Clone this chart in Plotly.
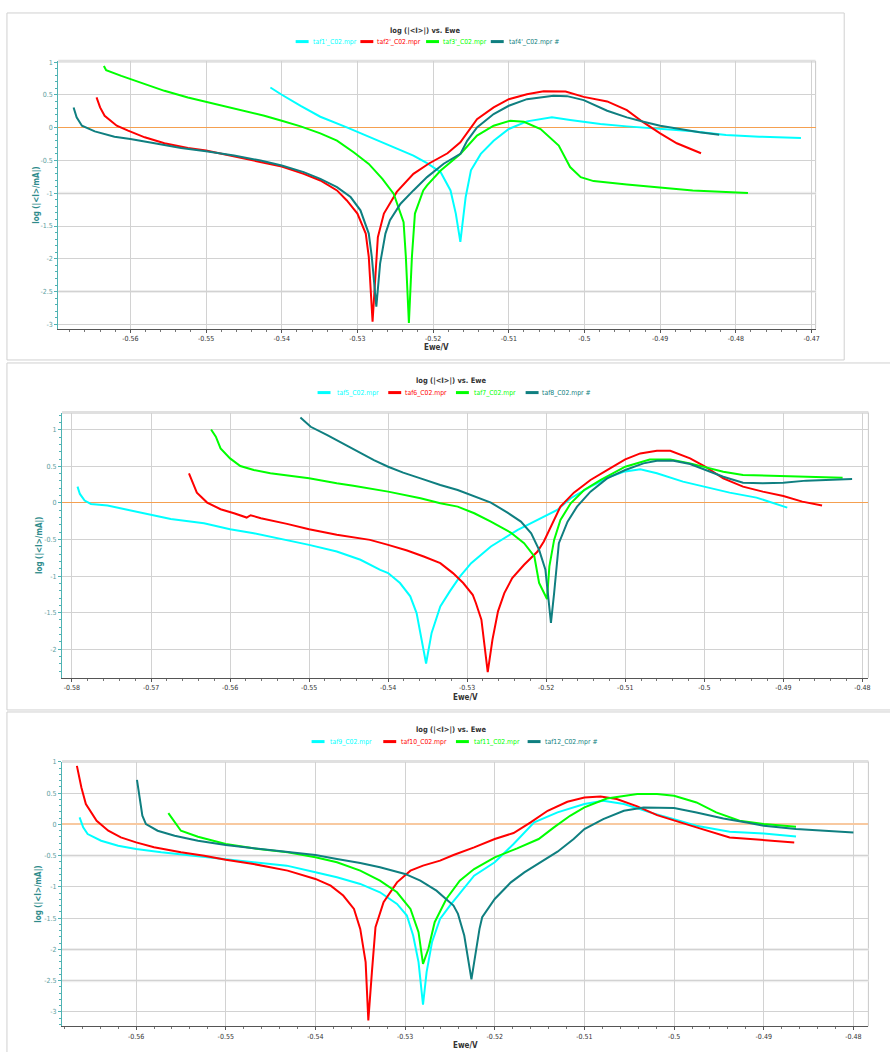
import plotly.graph_objects as go

# ---------------- data ----------------
SERIES_NAMES_1 = ["taf1'_C02.mpr", "taf2'_C02.mpr", "taf3'_C02.mpr", "taf4'_C02.mpr #"]
SERIES_NAMES_2 = ["taf5_C02.mpr", "taf6_C02.mpr", "taf7_C02.mpr", "taf8_C02.mpr #"]
SERIES_NAMES_3 = ["taf9_C02.mpr", "taf10_C02.mpr", "taf11_C02.mpr", "taf12_C02.mpr #"]
COLORS = ["#00FFFF", "#FF0000", "#00FF00", "#0F7F80"]

# Panel 1
taf1_x = [-0.5415, -0.5401, -0.5375, -0.5349, -0.5314, -0.5283, -0.5252, -0.5226, -0.5208, -0.519, -0.5177, -0.517,
          -0.5164, -0.5157, -0.515, -0.5137, -0.512, -0.51, -0.5076, -0.5043, -0.5019, -0.4979, -0.4944, -0.49,
          -0.4857, -0.4813, -0.4769, -0.4714]
taf1_y = [0.613, 0.51, 0.334, 0.167, 0.005, -0.147, -0.289, -0.425, -0.54, -0.68, -0.957, -1.31, -1.74, -1.06, -0.65,
          -0.40, -0.20, -0.02, 0.096, 0.157, 0.116, 0.056, 0.02, -0.02, -0.056, -0.11, -0.137, -0.157]
taf2_x = [-0.56447, -0.564, -0.5634, -0.5618, -0.5603, -0.5581, -0.5555, -0.5524, -0.55, -0.5463, -0.5428, -0.54,
          -0.5371, -0.5349, -0.5327, -0.5314, -0.53, -0.5289, -0.5285, -0.528, -0.5276, -0.5273, -0.5265, -0.5248,
          -0.5226, -0.5206, -0.5181, -0.5164, -0.5142, -0.512, -0.51, -0.5076, -0.5054, -0.5025, -0.5001, -0.497,
          -0.4944, -0.4922, -0.49, -0.4878, -0.4846]
taf2_y = [0.461, 0.309, 0.182, 0.03, -0.046, -0.147, -0.238, -0.309, -0.349, -0.44, -0.527, -0.592, -0.704, -0.805,
          -0.957, -1.11, -1.31, -1.615, -1.97, -2.96, -2.22, -1.67, -1.31, -0.98, -0.704, -0.55, -0.39, -0.223, 0.13,
          0.31, 0.435, 0.51, 0.557, 0.552, 0.47, 0.40, 0.268, 0.08, -0.086, -0.238, -0.39]
taf3_x = [-0.5635, -0.5632, -0.5612, -0.5586, -0.5555, -0.5524, -0.55, -0.5458, -0.5423, -0.54, -0.5375, -0.5349,
          -0.5327, -0.5305, -0.5285, -0.5267, -0.5252, -0.5239, -0.5236, -0.5232, -0.5228, -0.5224, -0.5213, -0.5208,
          -0.519, -0.5164, -0.5142, -0.512, -0.5098, -0.508, -0.5058, -0.5034, -0.5019, -0.5005, -0.4988, -0.4944,
          -0.49, -0.4857, -0.4813, -0.4784]
taf3_y = [0.942, 0.876, 0.79, 0.689, 0.562, 0.461, 0.395, 0.284, 0.182, 0.106, 0.02, -0.086, -0.197, -0.375, -0.552,
          -0.78, -1.01, -1.44, -1.97, -2.98, -1.97, -1.31, -0.957, -0.88, -0.653, -0.40, -0.12, 0.03, 0.106, 0.091,
          -0.02, -0.273, -0.60, -0.754, -0.815, -0.866, -0.916, -0.957, -0.98, -0.997]
taf4_x = [-0.5675, -0.5671, -0.5664, -0.5647, -0.5621, -0.56, -0.5568, -0.5533, -0.55, -0.5463, -0.5428, -0.54,
          -0.5371, -0.5349, -0.5327, -0.5309, -0.5296, -0.5285, -0.5281, -0.5275, -0.527, -0.5263, -0.5257, -0.5243,
          -0.5226, -0.5208, -0.5186, -0.5164, -0.5155, -0.5142, -0.512, -0.51, -0.5076, -0.5041, -0.5023, -0.5001,
          -0.497, -0.4944, -0.4922, -0.49, -0.4874, -0.4848, -0.4822]
taf4_y = [0.309, 0.157, 0.03, -0.056, -0.137, -0.172, -0.238, -0.309, -0.36, -0.425, -0.501, -0.577, -0.678, -0.78,
          -0.906, -1.058, -1.26, -1.615, -1.97, -2.73, -2.07, -1.615, -1.41, -1.16, -0.957, -0.754, -0.55, -0.40,
          -0.20, 0.005, 0.208, 0.334, 0.435, 0.486, 0.481, 0.42, 0.258, 0.157, 0.091, 0.03, -0.02, -0.071, -0.106]

# Panel 2
taf5_x = [-0.5793, -0.579, -0.5784, -0.5776, -0.5755, -0.5738, -0.57, -0.5675, -0.5633, -0.56, -0.557, -0.5528,
          -0.55, -0.5465, -0.5435, -0.541, -0.54, -0.5385, -0.5372, -0.5364, -0.5358, -0.5352, -0.5345, -0.5334,
          -0.5322, -0.5309, -0.5295, -0.527, -0.5236, -0.5199, -0.5186, -0.5169, -0.5144, -0.5119, -0.5102, -0.5081,
          -0.506, -0.5027, -0.5, -0.4968, -0.4934, -0.4913, -0.4895]
taf5_y = [0.223, 0.123, 0.032, -0.014, -0.036, -0.073, -0.164, -0.218, -0.277, -0.359, -0.414, -0.505, -0.573,
          -0.664, -0.777, -0.914, -0.959, -1.095, -1.277, -1.505, -1.868, -2.195, -1.777, -1.414, -1.209, -1.005,
          -0.823, -0.595, -0.368, -0.164, -0.095, 0.064, 0.223, 0.359, 0.427, 0.459, 0.405, 0.291, 0.223, 0.141,
          0.073, 0.005, -0.064]
taf6_x = [-0.5652, -0.5647, -0.5642, -0.5629, -0.5612, -0.5595, -0.5579, -0.5574, -0.5561, -0.5528, -0.55, -0.5465,
          -0.5423, -0.54, -0.5376, -0.5355, -0.5334, -0.5318, -0.5305, -0.5293, -0.5289, -0.5282, -0.5274, -0.5268,
          -0.5261, -0.5253, -0.5243, -0.5228, -0.5211, -0.5203, -0.5192, -0.5182, -0.5165, -0.5144, -0.5123, -0.51,
          -0.5081, -0.506, -0.5043, -0.5018, -0.5, -0.4976, -0.4951, -0.4926, -0.49, -0.4876, -0.4851]
taf6_y = [0.405, 0.268, 0.141, 0.005, -0.086, -0.141, -0.2, -0.168, -0.209, -0.286, -0.359, -0.436, -0.505, -0.573,
          -0.65, -0.732, -0.823, -0.959, -1.095, -1.255, -1.368, -1.595, -2.314, -1.868, -1.482, -1.232, -1.027,
          -0.845, -0.664, -0.527, -0.277, -0.05, 0.141, 0.314, 0.45, 0.595, 0.677, 0.714, 0.714, 0.609, 0.505, 0.336,
          0.223, 0.155, 0.095, 0.018, -0.036]
taf7_x = [-0.5624, -0.5618, -0.5612, -0.56, -0.5587, -0.557, -0.5549, -0.5528, -0.55, -0.5465, -0.5444, -0.54,
          -0.5359, -0.5334, -0.5312, -0.5291, -0.527, -0.5245, -0.5228, -0.5215, -0.5209, -0.5199, -0.5196, -0.519,
          -0.5182, -0.5169, -0.5152, -0.5131, -0.51, -0.5069, -0.5043, -0.5018, -0.5, -0.4976, -0.4951, -0.4926,
          -0.49, -0.4871, -0.4825]
taf7_y = [1.005, 0.905, 0.745, 0.609, 0.505, 0.45, 0.405, 0.373, 0.336, 0.268, 0.236, 0.155, 0.064, -0.005, -0.05,
          -0.141, -0.255, -0.405, -0.55, -0.732, -1.095, -1.314, -0.868, -0.505, -0.232, -0.005, 0.177, 0.314, 0.495,
          0.595, 0.595, 0.541, 0.495, 0.427, 0.382, 0.373, 0.373, 0.359, 0.345]
taf8_x = [-0.5511, -0.5498, -0.5477, -0.5456, -0.5435, -0.5418, -0.54, -0.5381, -0.5359, -0.5334, -0.5312, -0.5291,
          -0.527, -0.5249, -0.5232, -0.5219, -0.5209, -0.5201, -0.5198, -0.5194, -0.519, -0.5184, -0.5173, -0.5161,
          -0.5144, -0.5123, -0.51, -0.5077, -0.506, -0.5039, -0.5018, -0.5, -0.4976, -0.4951, -0.4926, -0.49,
          -0.4871, -0.4813]
taf8_y = [1.168, 1.041, 0.927, 0.805, 0.677, 0.586, 0.495, 0.414, 0.336, 0.245, 0.177, 0.095, 0.005, -0.132, -0.255,
          -0.414, -0.641, -0.914, -1.232, -1.641, -1.232, -0.55, -0.255, -0.05, 0.155, 0.336, 0.45, 0.541, 0.577,
          0.577, 0.532, 0.459, 0.359, 0.277, 0.268, 0.277, 0.305, 0.327]

# Panel 3
taf9_x = [-0.5663, -0.5659, -0.5654, -0.5639, -0.562, -0.56, -0.5572, -0.5543, -0.55, -0.5469, -0.5432, -0.54,
          -0.5376, -0.535, -0.5328, -0.5309, -0.5298, -0.5291, -0.5285, -0.528, -0.5276, -0.527, -0.5261, -0.525,
          -0.5235, -0.5223, -0.52, -0.5179, -0.5156, -0.513, -0.51, -0.5079, -0.5056, -0.5027, -0.5, -0.4975,
          -0.4938, -0.49, -0.4864]
taf9_y = [0.112, -0.048, -0.154, -0.261, -0.341, -0.394, -0.447, -0.49, -0.554, -0.596, -0.66, -0.767, -0.847,
          -0.953, -1.086, -1.273, -1.459, -1.778, -2.204, -2.886, -2.364, -1.885, -1.512, -1.299, -1.033, -0.82,
          -0.607, -0.314, 0.032, 0.192, 0.325, 0.378, 0.325, 0.192, 0.085, -0.021, -0.117, -0.144, -0.192]
taf10_x = [-0.5666, -0.5661, -0.5656, -0.5644, -0.5631, -0.5617, -0.56, -0.558, -0.555, -0.5524, -0.55, -0.5469,
           -0.5431, -0.54, -0.5383, -0.5369, -0.5357, -0.535, -0.5344, -0.5341, -0.5337, -0.5333, -0.5324, -0.5309,
           -0.5294, -0.528, -0.5261, -0.5246, -0.5223, -0.52, -0.5179, -0.516, -0.5141, -0.5119, -0.51, -0.5082,
           -0.5064, -0.5041, -0.5019, -0.5, -0.4975, -0.4938, -0.49, -0.4866]
taf10_y = [0.937, 0.591, 0.325, 0.059, -0.101, -0.208, -0.288, -0.367, -0.447, -0.501, -0.564, -0.634, -0.74, -0.873,
           -0.98, -1.139, -1.352, -1.672, -2.204, -3.136, -2.364, -1.645, -1.246, -0.927, -0.74, -0.66, -0.58, -0.49,
           -0.367, -0.234, -0.138, 0.032, 0.218, 0.362, 0.431, 0.447, 0.405, 0.288, 0.149, 0.059, -0.048, -0.208,
           -0.25, -0.288]
taf11_x = [-0.5564, -0.5557, -0.555, -0.5531, -0.55, -0.5469, -0.5431, -0.54, -0.5376, -0.535, -0.5328, -0.5309,
           -0.5294, -0.5285, -0.528, -0.5274, -0.5267, -0.5254, -0.5239, -0.5223, -0.52, -0.5175, -0.5151, -0.5134,
           -0.5116, -0.51, -0.5075, -0.5041, -0.5019, -0.5, -0.4975, -0.4953, -0.4927, -0.49, -0.4864]
taf11_y = [0.181, 0.032, -0.101, -0.197, -0.314, -0.383, -0.447, -0.527, -0.607, -0.74, -0.9, -1.086, -1.352, -1.725,
           -2.231, -1.991, -1.565, -1.193, -0.9, -0.714, -0.527, -0.383, -0.234, -0.048, 0.138, 0.272, 0.415, 0.485,
           0.485, 0.458, 0.351, 0.192, 0.059, 0.005, -0.037]
taf12_x = [-0.5599, -0.5596, -0.5593, -0.5589, -0.5576, -0.5557, -0.5531, -0.55, -0.5469, -0.5431, -0.54, -0.5376,
           -0.535, -0.5328, -0.53, -0.5283, -0.5265, -0.5246, -0.5241, -0.5234, -0.5226, -0.5217, -0.5214, -0.52,
           -0.5182, -0.5167, -0.5149, -0.513, -0.5112, -0.51, -0.5079, -0.5056, -0.5034, -0.5012, -0.5, -0.4975,
           -0.4945, -0.4919, -0.49, -0.4864, -0.48]
taf12_y = [0.714, 0.458, 0.138, 0.005, -0.101, -0.181, -0.261, -0.33, -0.383, -0.447, -0.49, -0.554, -0.618, -0.687,
           -0.793, -0.9, -1.06, -1.299, -1.432, -1.778, -2.481, -1.672, -1.486, -1.193, -0.927, -0.767, -0.607,
           -0.437, -0.234, -0.075, 0.085, 0.218, 0.272, 0.272, 0.261, 0.192, 0.096, 0.032, -0.021, -0.075, -0.128]

# tick values
P1_X_TICKS = [-0.56, -0.55, -0.54, -0.53, -0.52, -0.51, -0.50, -0.49, -0.48, -0.47]
P2_X_TICKS = [-0.58, -0.57, -0.56, -0.55, -0.54, -0.53, -0.52, -0.51, -0.50, -0.49, -0.48]
P3_X_TICKS = [-0.56, -0.55, -0.54, -0.53, -0.52, -0.51, -0.50, -0.49, -0.48]
P1_Y_TICKS = [1, 0.5, 0, -0.5, -1, -1.5, -2, -2.5, -3]
P2_Y_TICKS = [1, 0.5, 0, -0.5, -1, -1.5, -2]
P3_Y_TICKS = [1, 0.5, 0, -0.5, -1, -1.5, -2, -2.5, -3]

TITLE = "log (|&lt;I&gt;|) vs. Ewe"
X_TITLE = "Ewe/V"
Y_TITLE = "log (|&lt;I&gt;/mA|)"

# ---------------- layout helpers ----------------
W, H = 890, 1052


def fx(p):
    return p / W


def fy(p):
    return 1 - p / H


def lab(v):
    return f"{v:g}"


FONT = "Liberation Sans Narrow, DejaVu Sans Condensed, Liberation Sans, Arial, sans-serif"
TEAL_AX = "#4FB3B3"
TEAL_TXT = "#5A9E9E"

panels = [
    dict(names=SERIES_NAMES_1, data=[(taf1_x, taf1_y), (taf2_x, taf2_y), (taf3_x, taf3_y), (taf4_x, taf4_y)],
         px=(58.5, 819.3), py=(58.3, 326.7), xr=[-0.56953, -0.46946], yr=[-3.067, 1.015],
         xt=P1_X_TICKS, yt=P1_Y_TICKS, box=(7, 10, 848, 358), title=(427, 27.5), leg_y=38.7,
         leg=[(297, 313), (362, 378), (428, 444), (493, 510)], xtitle_y=345, ytitle_x=37,
         zero_color="#F5A050", zero_w=1, bands=[-1, -2.5]),
    dict(names=SERIES_NAMES_2, data=[(taf5_x, taf5_y), (taf6_x, taf6_y), (taf7_x, taf7_y), (taf8_x, taf8_y)],
         px=(62.3, 872.3), py=(410.7, 676.7), xr=[-0.58126, -0.47924], yr=[-2.39, 1.236],
         xt=P2_X_TICKS, yt=P2_Y_TICKS, box=(7, 361, 900, 709), title=(454, 379), leg_y=390.7,
         leg=[(319, 338), (390, 406), (458, 475), (528, 543)], xtitle_y=696, ytitle_x=39,
         zero_color="#F5A050", zero_w=1, bands=[]),
    dict(names=SERIES_NAMES_3, data=[(taf9_x, taf9_y), (taf10_x, taf10_y), (taf11_x, taf11_y), (taf12_x, taf12_y)],
         px=(62.3, 872.3), py=(760.7, 1026.3), xr=[-0.56826, -0.47833], yr=[-3.232, 1.006],
         xt=P3_X_TICKS, yt=P3_Y_TICKS, box=(7, 711, 900, 1060), title=(454, 729), leg_y=740.7,
         leg=[(313, 330), (385, 402), (458, 475), (530, 546)], xtitle_y=1045, ytitle_x=39,
         zero_color="#F8C9A0", zero_w=2, bands=[-0.5, -2, -2.5]),
]

fig = go.Figure()
shapes = []
annotations = []
layout_axes = {}

for i, p in enumerate(panels, start=1):
    xa = "x" if i == 1 else f"x{i}"
    ya = "y" if i == 1 else f"y{i}"
    xkey = "xaxis" if i == 1 else f"xaxis{i}"
    ykey = "yaxis" if i == 1 else f"yaxis{i}"

    for (xs, ys), name, col in zip(p["data"], p["names"], COLORS):
        fig.add_trace(go.Scatter(x=xs, y=ys, mode="lines", name=name, xaxis=xa, yaxis=ya,
                                 line=dict(color=col, width=2), showlegend=False))

    layout_axes[xkey] = dict(
        domain=[fx(p["px"][0]), fx(p["px"][1])], range=p["xr"], anchor=ya,
        tickmode="array", tickvals=p["xt"], ticktext=[lab(v) for v in p["xt"]],
        showgrid=True, gridcolor="#D2D2D2", gridwidth=1, zeroline=False,
        showline=True, linecolor="#555555", linewidth=1,
        ticks="outside", ticklen=3, tickcolor="#555555", tickwidth=1,
        minor=dict(dtick=0.002, tick0=0, ticks="outside", ticklen=2, tickcolor="#777777", showgrid=False),
        tickfont=dict(family=FONT, size=7, color="#333333"), fixedrange=True,
    )
    layout_axes[ykey] = dict(
        domain=[fy(p["py"][1]), fy(p["py"][0])], range=p["yr"], anchor=xa,
        tickmode="array", tickvals=p["yt"], ticktext=[lab(v) for v in p["yt"]],
        showgrid=True, gridcolor="#D2D2D2", gridwidth=1,
        zeroline=True, zerolinecolor=p["zero_color"], zerolinewidth=p["zero_w"],
        showline=True, linecolor=TEAL_AX, linewidth=1,
        ticks="outside", ticklen=3, tickcolor=TEAL_AX, tickwidth=1,
        minor=dict(dtick=0.1, tick0=0, ticks="outside", ticklen=2, tickcolor=TEAL_AX, showgrid=False),
        tickfont=dict(family=FONT, size=7, color=TEAL_TXT), fixedrange=True,
    )

    # outer panel box
    bx0, by0, bx1, by1 = p["box"]
    shapes.append(dict(type="rect", xref="paper", yref="paper", x0=fx(bx0), x1=fx(bx1), y0=fy(by1), y1=fy(by0),
                       line=dict(color="#D0D0D0", width=1), fillcolor="rgba(0,0,0,0)", layer="below"))
    # plot top & right border
    shapes.append(dict(type="line", xref=f"{xa} domain", yref=f"{ya} domain", x0=0, x1=1, y0=1, y1=1,
                       line=dict(color="#E0E0E0", width=3), layer="below"))
    shapes.append(dict(type="line", xref=f"{xa} domain", yref=f"{ya} domain", x0=1, x1=1, y0=0, y1=1,
                       line=dict(color="#C8C8C8", width=1), layer="below"))
    # light bands around some grid lines
    for yb in p["bands"]:
        shapes.append(dict(type="line", xref=f"{xa} domain", yref=ya, x0=0, x1=1, y0=yb, y1=yb,
                           line=dict(color="#EEEEEE", width=3), layer="below"))

    # title
    annotations.append(dict(text=f"<b>{TITLE}</b>", xref="paper", yref="paper", x=fx(p["title"][0]),
                            y=fy(p["title"][1]), xanchor="center", yanchor="middle", showarrow=False,
                            font=dict(family=FONT, size=7.5, color="#333333")))
    # legend
    for (sx, tx), name, col in zip(p["leg"], p["names"], COLORS):
        shapes.append(dict(type="line", xref="paper", yref="paper", x0=fx(sx), x1=fx(sx + 13),
                           y0=fy(p["leg_y"]), y1=fy(p["leg_y"]), line=dict(color=col, width=3)))
        annotations.append(dict(text=name, xref="paper", yref="paper", x=fx(tx - 1), y=fy(p["leg_y"]),
                                xanchor="left", yanchor="middle", showarrow=False,
                                font=dict(family=FONT, size=6.8, color=col)))
    # axis titles
    annotations.append(dict(text=f"<b>{X_TITLE}</b>", xref="paper", yref="paper",
                            x=fx((p["px"][0] + p["px"][1]) / 2), y=fy(p["xtitle_y"]), xanchor="center",
                            yanchor="middle", showarrow=False, font=dict(family=FONT, size=8, color="#333333")))
    annotations.append(dict(text=f"<b>{Y_TITLE}</b>", xref="paper", yref="paper", x=fx(p["ytitle_x"]),
                            y=fy((p["py"][0] + p["py"][1]) / 2), xanchor="center", yanchor="middle",
                            textangle=-90, showarrow=False, font=dict(family=FONT, size=8, color="#2E8B8B")))

fig.update_layout(
    width=W, height=H, autosize=False,
    margin=dict(l=0, r=0, t=0, b=0, pad=0),
    paper_bgcolor="white", plot_bgcolor="white",
    showlegend=False, shapes=shapes, annotations=annotations,
    **layout_axes,
)

fig.write_html("out.html")
